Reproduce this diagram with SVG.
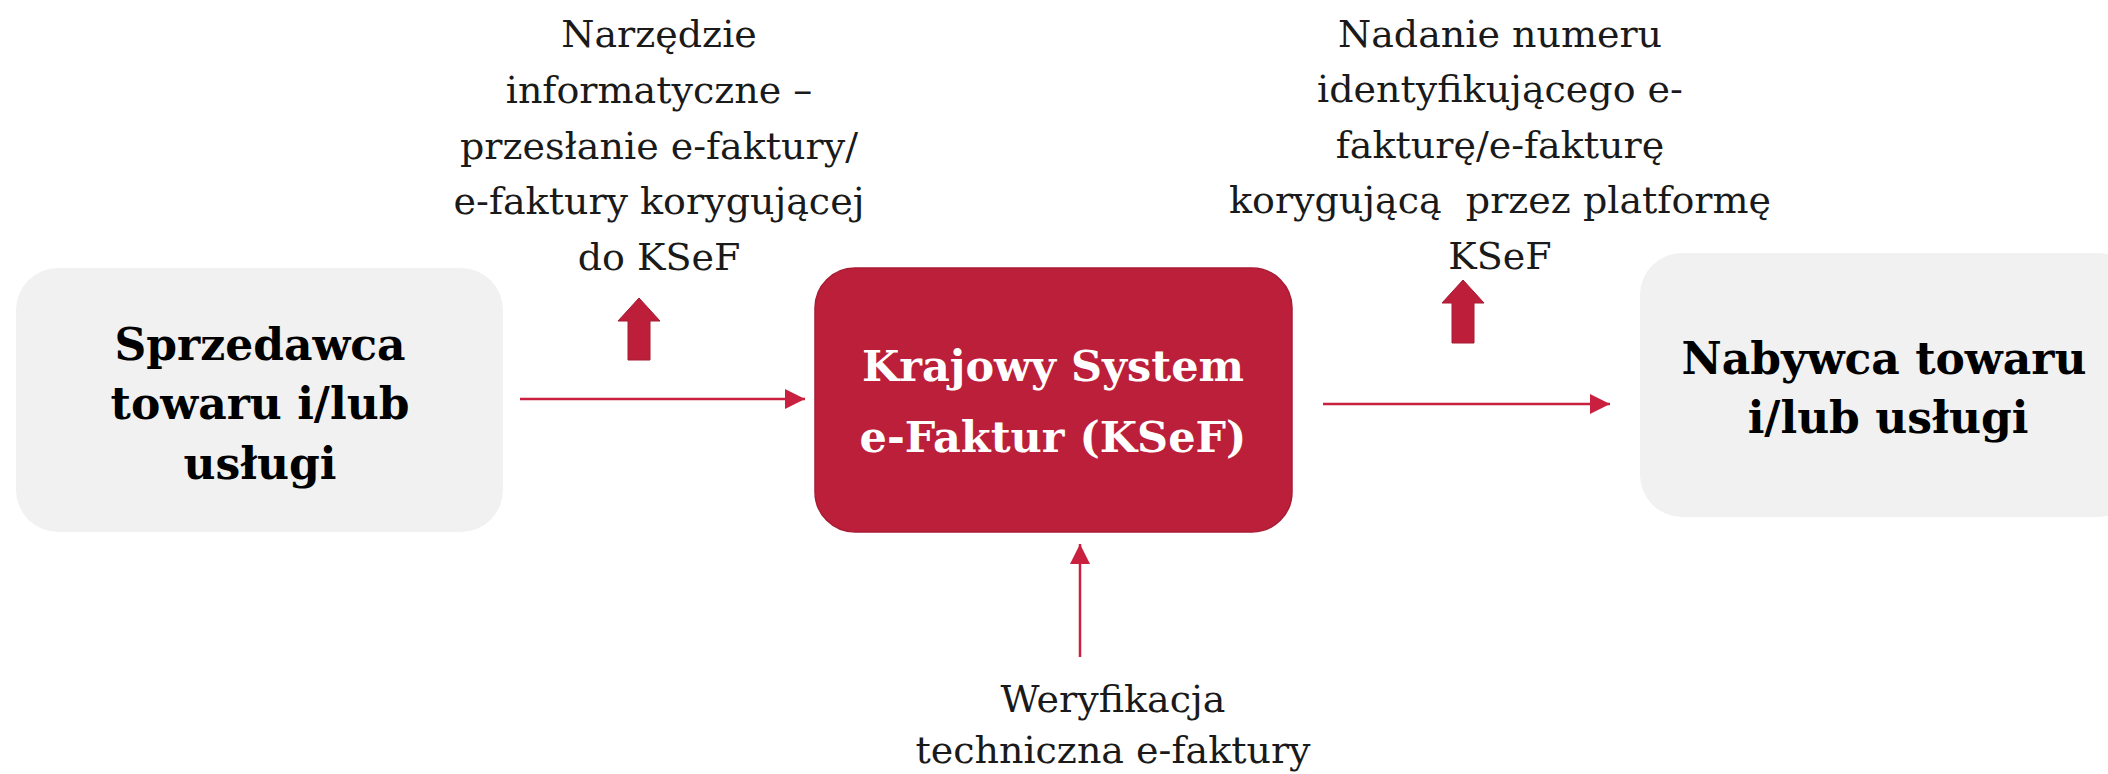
<svg xmlns="http://www.w3.org/2000/svg" width="2108" height="774" viewBox="0 0 2108 774">
<style>
.lbl{font-family:"DejaVu Serif","Liberation Serif",serif;font-size:38px;fill:#1a1a1a;text-anchor:middle}
.nodeg{fill:#f1f1f1}
.nodet{font-family:"DejaVu Serif","Liberation Serif",serif;font-weight:bold;font-size:44px;fill:#000;text-anchor:middle}
.nodew{font-family:"DejaVu Serif","Liberation Serif",serif;font-weight:bold;font-size:43px;fill:#fff;text-anchor:middle}
.conn{stroke:#c8203e;stroke-width:2.5;fill:none}
.big{fill:#bd1e3a;stroke:#a51a33;stroke-width:1}
</style>
<defs>
<marker id="ah" viewBox="0 0 10 10" refX="10" refY="5" markerWidth="8" markerHeight="8" markerUnits="strokeWidth" orient="auto">
<path d="M0,0 L10,5 L0,10 z" fill="#c8203e"/>
</marker>
</defs>
<g id="sprzedawca">
<rect class="nodeg" x="16" y="268" width="487" height="264" rx="42"/>
<text class="nodet" x="260" y="360">Sprzedawca</text>
<text class="nodet" x="260" y="419">towaru i/lub</text>
<text class="nodet" x="260" y="479">usługi</text>
</g>
<g id="ksef">
<rect x="815" y="268" width="477" height="264" rx="40" fill="#bc1f3a" stroke="#a81b34" stroke-width="1.5"/>
<text class="nodew" x="1053" y="381">Krajowy System</text>
<text class="nodew" x="1053" y="452">e-Faktur (KSeF)</text>
</g>
<g id="nabywca">
<rect class="nodeg" x="1640" y="253" width="500" height="264" rx="42"/>
<text class="nodet" x="1884" y="374">Nabywca towaru</text>
<text class="nodet" x="1888" y="433">i/lub usługi</text>
</g>
<g id="label-narzedzie">
<text class="lbl" x="659" y="47">Narzędzie</text>
<text class="lbl" x="659" y="103">informatyczne –</text>
<text class="lbl" x="659" y="159">przesłanie e-faktury/</text>
<text class="lbl" x="659" y="214">e-faktury korygującej</text>
<text class="lbl" x="659" y="270">do KSeF</text>
</g>
<g id="label-nadanie">
<text class="lbl" x="1500" y="47">Nadanie numeru</text>
<text class="lbl" x="1500" y="102">identyfikującego e-</text>
<text class="lbl" x="1500" y="158">fakturę/e-fakturę</text>
<text class="lbl" x="1500" y="213" xml:space="preserve">korygującą  przez platformę</text>
<text class="lbl" x="1500" y="269">KSeF</text>
</g>
<g id="label-weryfikacja">
<text class="lbl" x="1113" y="712">Weryfikacja</text>
<text class="lbl" x="1113" y="763">techniczna e-faktury</text>
</g>
<g id="connectors">
<line class="conn" x1="520" y1="399" x2="805" y2="399" marker-end="url(#ah)"/>
<line class="conn" x1="1323" y1="404" x2="1610" y2="404" marker-end="url(#ah)"/>
<line class="conn" x1="1080" y1="657" x2="1080" y2="544" marker-end="url(#ah)"/>
<path class="big" d="M639,298 L660,321 L650,321 L650,360 L628,360 L628,321 L618,321 Z"/>
<path class="big" d="M1463,280 L1484,303 L1474,303 L1474,343 L1452,343 L1452,303 L1442,303 Z"/>
</g>
</svg>
